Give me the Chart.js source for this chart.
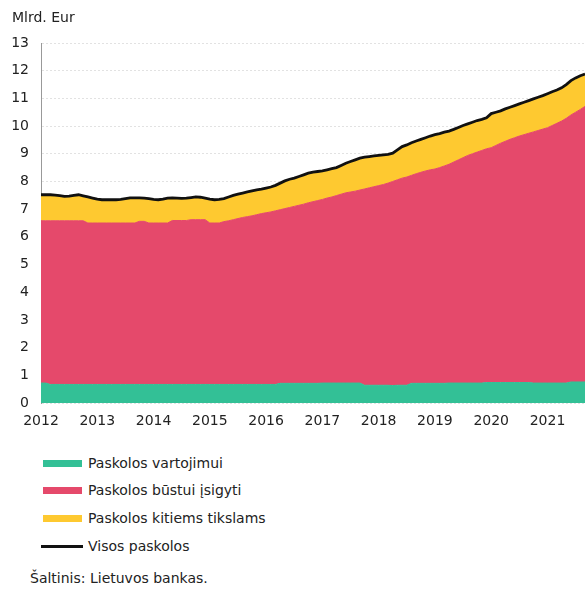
<!DOCTYPE html>
<html>
<head>
<meta charset="utf-8">
<script src="https://cdn.jsdelivr.net/npm/chart.js@4.4.1/dist/chart.umd.min.js"></script>
<style>
  body { margin: 0; background: #fff; font-family: "DejaVu Sans", Verdana, sans-serif; color: #222; }
  #wrap { position: relative; width: 585px; height: 589px; overflow: hidden; }
  #unit { position: absolute; left: 12px; top: 9px; font-size: 14px; }
  #chartBox { position: absolute; left: 0; top: 0; }
  .lg { position: absolute; left: 0; font-size: 14px; height: 18px; line-height: 18px; }
  .lg i { position: absolute; left: 43px; width: 39px; height: 7px; top: 6px; }
  .lg span { position: absolute; left: 88px; white-space: nowrap; }
  #src { position: absolute; left: 30px; top: 570px; font-size: 14px; white-space: nowrap; }
</style>
</head>
<body>
<div id="wrap">
  <div id="chartBox"><canvas id="loanChart" width="585" height="433"></canvas></div>
  <div id="unit">Mlrd. Eur</div>
  <div class="lg" style="top:454px"><i style="background:#33c096"></i><span>Paskolos vartojimui</span></div>
  <div class="lg" style="top:481px"><i style="background:#e5496b"></i><span>Paskolos būstui įsigyti</span></div>
  <div class="lg" style="top:509px"><i style="background:#fec930"></i><span>Paskolos kitiems tikslams</span></div>
  <div class="lg" style="top:537px"><i style="background:#111;height:3px;top:8px;left:41px;width:42px"></i><span>Visos paskolos</span></div>
  <div id="src">Šaltinis: Lietuvos bankas.</div>
</div>
<script>
// metai ir mėnesiai (2012-01 ... 2021-09)
const years = [2012, 2013, 2014, 2015, 2016, 2017, 2018, 2019, 2020, 2021];
const lastYearMonths = 9;

// paskolos vartojimui, mlrd. Eur
const vartojimui = [
  0.72,0.72,0.67,0.67,0.67,0.67,0.67,0.67,0.67,0.67,0.67,0.67,
  0.67,0.67,0.67,0.67,0.67,0.67,0.67,0.67,0.67,0.67,0.67,0.67,
  0.67,0.67,0.67,0.67,0.67,0.67,0.67,0.67,0.67,0.67,0.67,0.67,
  0.67,0.67,0.67,0.67,0.67,0.67,0.67,0.67,0.67,0.67,0.67,0.67,
  0.67,0.67,0.67,0.71,0.71,0.71,0.71,0.71,0.71,0.71,0.71,0.71,
  0.72,0.72,0.72,0.72,0.72,0.72,0.72,0.72,0.72,0.64,0.64,0.64,
  0.64,0.64,0.64,0.63,0.64,0.64,0.64,0.71,0.71,0.71,0.71,0.71,
  0.71,0.71,0.71,0.72,0.72,0.72,0.72,0.72,0.72,0.72,0.72,0.74,
  0.74,0.74,0.74,0.74,0.74,0.74,0.74,0.74,0.74,0.72,0.72,0.72,
  0.72,0.72,0.72,0.72,0.72,0.76,0.76,0.76,0.76
];

// paskolos būstui įsigyti
const bustui = [
  5.86,5.86,5.91,5.91,5.91,5.91,5.91,5.91,5.91,5.91,5.83,5.83,
  5.83,5.83,5.83,5.83,5.83,5.83,5.83,5.83,5.83,5.89,5.89,5.83,
  5.83,5.83,5.83,5.83,5.92,5.92,5.92,5.92,5.95,5.95,5.95,5.95,
  5.83,5.83,5.83,5.88,5.91,5.95,5.99,6.03,6.06,6.09,6.13,6.17,
  6.20,6.23,6.27,6.27,6.31,6.35,6.39,6.43,6.47,6.52,6.56,6.60,
  6.63,6.68,6.72,6.77,6.82,6.87,6.90,6.93,6.97,7.09,7.13,7.17,
  7.21,7.25,7.30,7.37,7.42,7.48,7.52,7.51,7.57,7.62,7.67,7.71,
  7.74,7.79,7.85,7.90,7.98,8.06,8.14,8.22,8.28,8.34,8.40,8.44,
  8.48,8.56,8.64,8.71,8.78,8.84,8.90,8.95,9.00,9.07,9.12,9.17,
  9.22,9.30,9.38,9.46,9.56,9.64,9.74,9.84,9.95
];

// paskolos kitiems tikslams
const kitiems = [
  0.94,0.94,0.94,0.93,0.91,0.88,0.89,0.92,0.94,0.90,0.94,0.90,
  0.86,0.84,0.84,0.84,0.84,0.85,0.88,0.91,0.91,0.85,0.84,0.88,
  0.85,0.84,0.86,0.90,0.82,0.81,0.80,0.81,0.80,0.82,0.81,0.78,
  0.86,0.84,0.85,0.83,0.86,0.88,0.88,0.88,0.89,0.90,0.90,0.88,
  0.89,0.90,0.92,0.96,1.00,1.02,1.02,1.04,1.06,1.07,1.07,1.05,
  1.03,1.02,1.02,1.01,1.04,1.07,1.10,1.13,1.15,1.15,1.13,1.11,
  1.09,1.07,1.04,1.02,1.08,1.14,1.16,1.18,1.18,1.19,1.20,1.22,
  1.24,1.23,1.22,1.20,1.18,1.17,1.16,1.14,1.14,1.14,1.12,1.12,
  1.23,1.20,1.17,1.17,1.16,1.16,1.16,1.17,1.18,1.19,1.20,1.21,
  1.23,1.22,1.20,1.20,1.22,1.24,1.24,1.22,1.17
];

// visos paskolos = trijų dalių suma
const visos = vartojimui.map((v, i) => +(v + bustui[i] + kitiems[i]).toFixed(2));

const yTicks = [0, 1, 2, 3, 4, 5, 6, 7, 8, 9, 10, 11, 12, 13];

const labels = [];
years.forEach(y => {
  const n = y === years[years.length - 1] ? lastYearMonths : 12;
  for (let m = 1; m <= n; m++) labels.push(y + '-' + String(m).padStart(2, '0'));
});

const font = { family: '"DejaVu Sans", Verdana, sans-serif', size: 14 };

function area(label, data, color, fill) {
  return {
    label: label, data: data, fill: fill, stack: 'dalys', order: 1,
    backgroundColor: color, borderColor: color, borderWidth: 1,
    pointRadius: 0, tension: 0
  };
}

new Chart(document.getElementById('loanChart'), {
  type: 'line',
  data: {
    labels: labels,
    datasets: [
      area('Paskolos vartojimui', vartojimui, '#33c096', 'origin'),
      area('Paskolos būstui įsigyti', bustui, '#e5496b', '-1'),
      area('Paskolos kitiems tikslams', kitiems, '#fec930', '-1'),
      {
        label: 'Visos paskolos', data: visos, stack: 'visos', order: 0,
        fill: false, borderColor: '#111', borderWidth: 2.8,
        pointRadius: 0, tension: 0
      }
    ]
  },
  options: {
    responsive: false,
    animation: false,
    layout: { padding: { top: 43, right: 0, bottom: 0, left: 0 } },
    plugins: { legend: { display: false }, tooltip: { enabled: false } },
    scales: {
      x: {
        offset: false,
        grid: { display: false, drawTicks: false },
        border: { display: false },
        ticks: {
          autoSkip: false, maxRotation: 0, padding: 10, color: '#222', font: font,
          callback: function (v, i) {
            const l = labels[i];
            return l.endsWith('-01') ? l.slice(0, 4) : '';
          }
        },
        afterFit: s => { s.height = 30; s.paddingRight = 0; }
      },
      y: {
        stacked: true,
        min: 0, max: 13,
        afterBuildTicks: s => { s.ticks = yTicks.map(v => ({ value: v })); },
        grid: { color: '#e2e2e2', drawTicks: false },
        border: { display: true, color: '#999', dash: [2, 2] },
        ticks: { padding: 12, color: '#222', font: font },
        afterFit: s => { s.width = 41; }
      }
    }
  }
});
</script>
</body>
</html>
